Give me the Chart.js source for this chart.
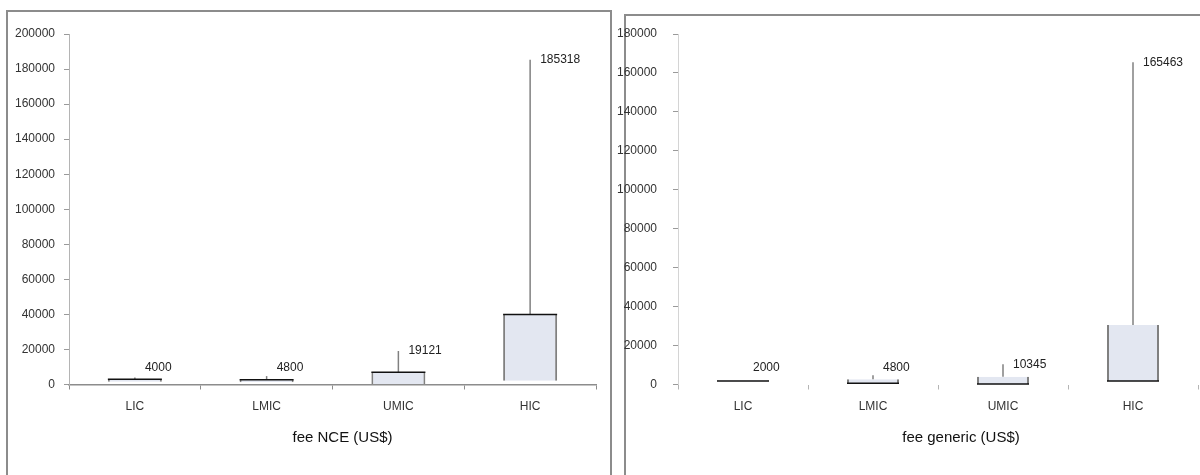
<!DOCTYPE html>
<html>
<head>
<meta charset="utf-8">
<title>Registration fees by income group</title>
<script src="https://cdn.jsdelivr.net/npm/chart.js@4"></script>
<style>
  body { margin: 0; background: #fff; width: 1200px; height: 475px; overflow: hidden; position: relative; }
  .frame { position: absolute; border: 2px solid #8c8c8c; border-bottom: none; }
  #frameNce { left: 6px; top: 10px; width: 602px; height: 480px; }
  #frameGeneric { left: 624px; top: 14px; width: 600px; height: 480px; }
  .holder { position: absolute; top: 0; height: 475px; }
  #holderNce { left: 0; width: 612px; }
  #holderGeneric { left: 612px; width: 588px; }
</style>
</head>
<body>
<div class="frame" id="frameNce"></div>
<div class="frame" id="frameGeneric"></div>
<div class="holder" id="holderNce"><canvas id="chartNce"></canvas></div>
<div class="holder" id="holderGeneric"><canvas id="chartGeneric"></canvas></div>

<script>
// income groups
const categories = ['LIC', 'LMIC', 'UMIC', 'HIC'];

// fee NCE: box from low to high, whisker up to max
const nceLow = [1500, 1300, 300, 2200];
const nceHigh = [3000, 2700, 7000, 40000];
const nceMax = [4000, 4800, 19121, 185318];

// fee generic
const genericLow = [1800, 600, 200, 1800];
const genericHigh = [2000, 2700, 4000, 30500];
const genericMax = [2000, 4800, 10345, 165463];

// y axis ranges
const nceAxisMax = 200000;
const genericAxisMax = 180000;
const tickStep = 20000;

const FONT = "'Liberation Sans', Arial, sans-serif";

// draws the whisker line, the dark box edge and the max label
const whiskerPlugin = {
    id: 'whiskers',
    afterDatasetsDraw(chart, args, opts) {
        const ctx = chart.ctx;
        const y = chart.scales.y;
        const meta = chart.getDatasetMeta(0);
        const zeroY = y.getPixelForValue(0);
        ctx.save();
        meta.data.forEach((bar, i) => {
            const topY = y.getPixelForValue(opts.highs[i]);
            const maxY = y.getPixelForValue(opts.maxima[i]);

            ctx.strokeStyle = '#808080';
            ctx.lineWidth = 1.5;
            ctx.beginPath();
            ctx.moveTo(bar.x, topY);
            ctx.lineTo(bar.x, maxY);
            ctx.stroke();

            const edgeValue = opts.edge === 'top' ? opts.highs[i] : opts.lows[i];
            const edgeY = y.getPixelForValue(edgeValue);
            ctx.strokeStyle = '#111';
            ctx.lineWidth = 1.5;
            ctx.beginPath();
            ctx.moveTo(bar.x - bar.width / 2, edgeY);
            ctx.lineTo(bar.x + bar.width / 2, edgeY);
            ctx.stroke();

            ctx.fillStyle = '#222';
            ctx.font = '12px ' + FONT;
            ctx.textAlign = 'left';
            ctx.textBaseline = 'middle';
            ctx.fillText(String(opts.maxima[i]), bar.x + 10, Math.min(maxY, zeroY - 17));
        });
        ctx.restore();
    }
};

// axis caption under the category labels
const captionPlugin = {
    id: 'caption',
    afterDraw(chart, args, opts) {
        const ctx = chart.ctx;
        const x = chart.scales.x;
        ctx.save();
        ctx.fillStyle = '#111';
        ctx.font = '15px ' + FONT;
        ctx.textAlign = 'center';
        ctx.textBaseline = 'middle';
        ctx.fillText(opts.text, (x.left + x.right) / 2 + opts.shift, x.top + 53.5);
        ctx.restore();
    }
};

function makeChart(canvasId, lows, highs, maxima, axisMax, titleText, cfg) {
    const ctx = document.getElementById(canvasId).getContext('2d');
    return new Chart(ctx, {
        type: 'bar',
        data: {
            labels: categories,
            datasets: [{
                data: lows.map((v, i) => [v, highs[i]]),
                backgroundColor: '#e3e7f1',
                borderColor: '#808080',
                borderWidth: { left: 2, right: 2, top: 0, bottom: 0 },
                borderSkipped: false,
                barPercentage: cfg.barPct,
                categoryPercentage: 1
            }]
        },
        options: {
            responsive: true,
            maintainAspectRatio: false,
            animation: false,
            layout: { padding: { top: 34, right: cfg.padRight, bottom: 0, left: 0 } },
            plugins: {
                legend: { display: false },
                tooltip: { enabled: false },
                whiskers: { lows: lows, highs: highs, maxima: maxima, edge: cfg.edge },
                caption: { text: titleText, shift: cfg.titleShift }
            },
            scales: {
                x: {
                    afterFit: (scale) => { scale.height = 90.5; },
                    grid: {
                        drawOnChartArea: false,
                        tickLength: 5,
                        color: cfg.xTickColor
                    },
                    border: { display: cfg.xLine, color: '#8c8c8c', width: 1.5 },
                    ticks: {
                        padding: 10,
                        color: '#333',
                        font: { family: FONT, size: 12 }
                    }
                },
                y: {
                    min: 0,
                    max: axisMax,
                    afterFit: (scale) => { scale.width = cfg.yWidth; },
                    grid: {
                        drawOnChartArea: false,
                        tickLength: 5,
                        color: '#9a9a9a'
                    },
                    border: { display: true, color: cfg.yLineColor, width: 1 },
                    ticks: {
                        stepSize: tickStep,
                        padding: cfg.yPad,
                        color: '#333',
                        font: { family: FONT, size: 12 },
                        callback: (v) => String(v)
                    }
                }
            }
        },
        plugins: [whiskerPlugin, captionPlugin]
    });
}

makeChart('chartNce', nceLow, nceHigh, nceMax, nceAxisMax, 'fee NCE (US$)', {
    barPct: 0.41, padRight: 16, yWidth: 69, yPad: 9, edge: 'top', titleShift: 10,
    xLine: true, xTickColor: '#8c8c8c', yLineColor: '#b4b4b4'
});

makeChart('chartGeneric', genericLow, genericHigh, genericMax, genericAxisMax, 'fee generic (US$)', {
    barPct: 0.40, padRight: 2, yWidth: 66, yPad: 16, edge: 'bottom', titleShift: 23,
    xLine: false, xTickColor: '#b4b4b4', yLineColor: '#d4d4d4'
});
</script>
</body>
</html>
